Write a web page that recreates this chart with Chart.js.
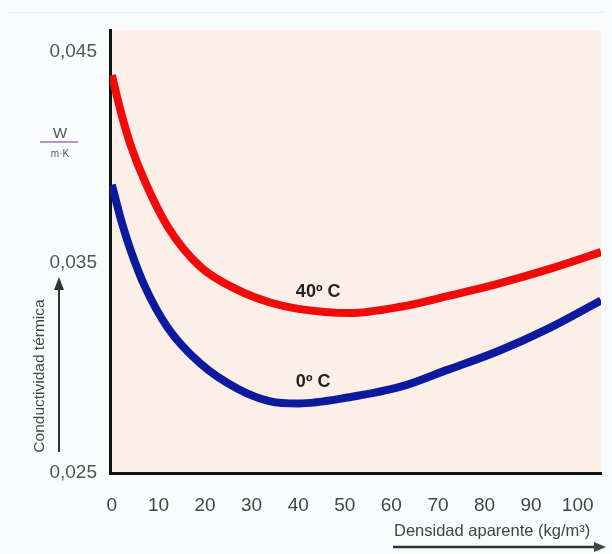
<!DOCTYPE html>
<html>
<head>
<meta charset="UTF-8">
<title>Conductividad térmica</title>
<script src="https://cdn.jsdelivr.net/npm/chart.js"></script>
<style>
  body { margin: 0; background: #f8fcfd; }
  canvas { display: block; }
</style>
</head>
<body>
<canvas id="grafica" width="612" height="554"></canvas>
<script>
// datos
const densidades = [0, 2, 4, 7, 12, 19, 27, 34, 40, 51, 62, 72, 83, 94, 105];
const conductividad40 = [0.0439, 0.0421, 0.0406, 0.0389, 0.0367, 0.0348, 0.0337, 0.0331, 0.0328, 0.0326, 0.0329, 0.0334, 0.0340, 0.0347, 0.0355];
const conductividad0 = [0.0387, 0.0370, 0.0356, 0.0339, 0.0319, 0.0302, 0.0290, 0.0284, 0.0283, 0.0286, 0.0291, 0.0299, 0.0308, 0.0319, 0.0332];
const etiquetasSeries = ['40º C', '0º C'];
const ticksX = [0, 10, 20, 30, 40, 50, 60, 70, 80, 90, 100];
const ticksY = [0.025, 0.035, 0.045];

const puntos = (ys) => densidades.map((x, i) => ({ x: x, y: ys[i] }));

// fondo crema del area de trazado + textos y flechas
const decoracion = {
  id: 'decoracion',
  beforeDraw(chart) {
    const { ctx, chartArea: a } = chart;
    ctx.save();
    ctx.fillStyle = '#fcefe8';
    ctx.fillRect(a.left, a.top, a.right - a.left, a.bottom - a.top);
    ctx.strokeStyle = '#e2f1ec';
    ctx.lineWidth = 1;
    ctx.beginPath();
    ctx.moveTo(8, 12.5); ctx.lineTo(604, 12.5);
    ctx.stroke();
    ctx.restore();
  },
  afterDraw(chart) {
    const { ctx, scales } = chart;
    ctx.save();
    // etiquetas de las curvas
    ctx.fillStyle = '#222';
    ctx.font = 'bold 18px "Liberation Sans", Arial, sans-serif';
    ctx.textBaseline = 'middle';
    ctx.textAlign = 'left';
    ctx.fillText(etiquetasSeries[0], scales.x.getPixelForValue(39.5), scales.y.getPixelForValue(0.0336));
    ctx.fillText(etiquetasSeries[1], scales.x.getPixelForValue(39.5), scales.y.getPixelForValue(0.0293));

    // unidades W / m·K
    ctx.fillStyle = '#555';
    ctx.textAlign = 'center';
    ctx.font = '15px "Liberation Sans", Arial, sans-serif';
    ctx.fillText('W', 60, 134);
    ctx.strokeStyle = '#a070b8';
    ctx.lineWidth = 1.5;
    ctx.beginPath(); ctx.moveTo(40, 142); ctx.lineTo(78, 142); ctx.stroke();
    ctx.font = '10px "Liberation Sans", Arial, sans-serif';
    ctx.fillText('m·K', 60, 154);

    // titulo eje y con flecha
    ctx.save();
    ctx.translate(40, 376);
    ctx.rotate(-Math.PI / 2);
    ctx.fillStyle = '#444';
    ctx.font = '15.5px "Liberation Sans", Arial, sans-serif';
    ctx.fillText('Conductividad térmica', 0, 0);
    ctx.restore();
    ctx.strokeStyle = '#333';
    ctx.fillStyle = '#333';
    ctx.lineWidth = 2;
    ctx.beginPath(); ctx.moveTo(59, 452); ctx.lineTo(59, 286); ctx.stroke();
    ctx.beginPath(); ctx.moveTo(59, 277); ctx.lineTo(54, 290); ctx.lineTo(64, 290); ctx.closePath(); ctx.fill();

    // titulo eje x con flecha
    ctx.fillStyle = '#444';
    ctx.textAlign = 'left';
    ctx.font = '16.5px "Liberation Sans", Arial, sans-serif';
    ctx.fillText('Densidad aparente (kg/m³)', 394, 531);
    ctx.lineWidth = 2.5;
    ctx.beginPath(); ctx.moveTo(393, 547); ctx.lineTo(596, 547); ctx.stroke();
    ctx.beginPath(); ctx.moveTo(606, 547); ctx.lineTo(594, 542); ctx.lineTo(594, 552); ctx.closePath(); ctx.fill();
    ctx.restore();
  }
};

const grafica = new Chart(document.getElementById('grafica'), {
  type: 'line',
  data: {
    datasets: [
      {
        label: etiquetasSeries[0],
        data: puntos(conductividad40),
        borderColor: '#f20a0a',
        borderWidth: 8,
        pointRadius: 0,
        cubicInterpolationMode: 'monotone',
        fill: false
      },
      {
        label: etiquetasSeries[1],
        data: puntos(conductividad0),
        borderColor: '#0c1a9e',
        borderWidth: 8,
        pointRadius: 0,
        cubicInterpolationMode: 'monotone',
        fill: false
      }
    ]
  },
  options: {
    responsive: false,
    animation: false,
    layout: { padding: { top: 30, right: 11, left: 0, bottom: 0 } },
    plugins: { legend: { display: false }, tooltip: { enabled: false } },
    scales: {
      x: {
        type: 'linear',
        min: -0.4,
        max: 105,
        afterBuildTicks: (s) => { s.ticks = ticksX.map(v => ({ value: v })); },
        afterFit: (s) => { s.height = 81; },
        grid: { display: false },
        border: { display: true, color: '#111', width: 3 },
        ticks: {
          color: '#444',
          padding: 13,
          maxRotation: 0,
          font: { family: '"Liberation Sans", Arial, sans-serif', size: 19 }
        }
      },
      y: {
        type: 'linear',
        min: 0.025,
        max: 0.04605,
        afterBuildTicks: (s) => { s.ticks = ticksY.map(v => ({ value: v })); },
        afterFit: (s) => { s.width = 110; },
        grid: { display: false },
        border: { display: true, color: '#111', width: 3 },
        ticks: {
          color: '#555',
          padding: 5,
          callback: (v) => v.toFixed(3).replace('.', ','),
          font: { family: '"Liberation Sans", Arial, sans-serif', size: 19 }
        }
      }
    }
  },
  plugins: [decoracion]
});
</script>
</body>
</html>
